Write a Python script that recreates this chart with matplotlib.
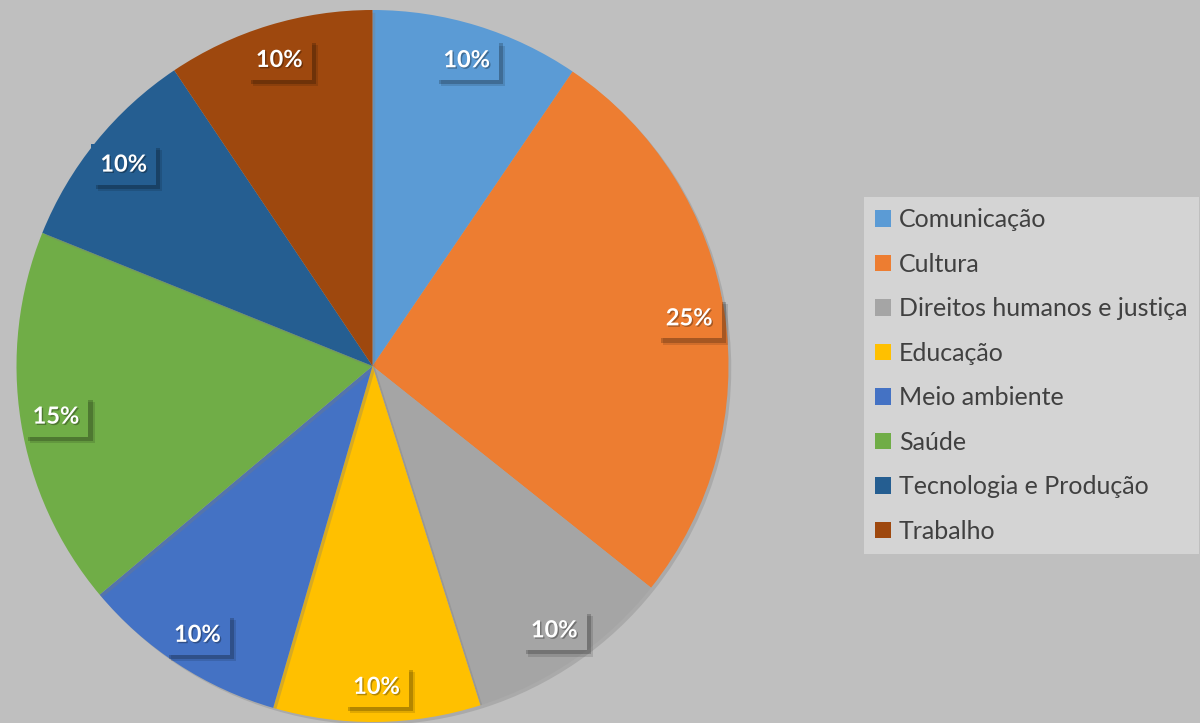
import matplotlib.pyplot as plt
import matplotlib.patheffects as pe
from matplotlib.patches import Patch

# slices, clockwise from 12 o'clock; sizes
categories = ['Comunicação', 'Cultura', 'Direitos humanos e justiça', 'Educação',
              'Meio ambiente', 'Saúde', 'Tecnologia e Produção', 'Trabalho']
shares = [9.5, 26.2, 9.4, 9.4, 9.4, 17.2, 9.5, 9.4]
pct_labels = ['10%', '25%', '10%', '10%', '10%', '15%', '10%', '10%']
colors = ['#5B9BD5', '#ED7D31', '#A5A5A5', '#FFC000',
          '#4472C4', '#70AD47', '#255E91', '#9E480E']

plt.rcParams['font.family'] = ['Lato', 'DejaVu Sans']

fig = plt.figure(figsize=(12, 7.23), dpi=100, facecolor='#bfbfbf')
# square axes centred on the pie at (372, 366) px, radius ~356 px
ax = fig.add_axes([16.5 / 1200, 1 / 723, 712 / 1200, 712 / 723])
ax.set_facecolor('none')

labels_iter = iter(pct_labels)
wedges, texts, autotexts = ax.pie(
    shares, colors=colors, startangle=90, counterclock=False,
    autopct=lambda p: next(labels_iter), pctdistance=0.9, radius=1.0,
    wedgeprops=dict(linewidth=0),
)

for w in wedges:
    w.set_path_effects([pe.SimplePatchShadow(offset=(2, -2), shadow_rgbFace='#7a7a7a', alpha=0.3),
                        pe.Normal()])

for t, c in zip(autotexts, colors):
    t.set_color('white')
    t.set_fontsize(17)
    t.set_fontweight('bold')
    t.set_bbox(dict(boxstyle='square,pad=0.38', facecolor=c, edgecolor='none'))
    # soft-ish drop shadow under the label box
    t.get_bbox_patch().set_path_effects([
        pe.SimplePatchShadow(offset=(4.5, -4.5), shadow_rgbFace='black', alpha=0.12),
        pe.SimplePatchShadow(offset=(3, -3), shadow_rgbFace='black', alpha=0.2),
        pe.Normal()])
    t.set_path_effects([pe.withSimplePatchShadow(offset=(1, -1), shadow_rgbFace='black', alpha=0.3)])

ax.set_xlim(-1.0, 1.0)
ax.set_ylim(-1.0, 1.0)
ax.set_aspect('equal')
ax.axis('off')

handles = [Patch(facecolor=c, edgecolor='none') for c in colors]
leg = fig.legend(handles, categories, loc='upper left', bbox_to_anchor=(864 / 1200, 1 - 197 / 723),
                 frameon=True, fancybox=False, fontsize=18, handlelength=0.64, handleheight=0.64,
                 handletextpad=0.3, labelspacing=0.86, borderpad=0.45, borderaxespad=0)
leg.get_frame().set_facecolor('#d4d4d4')
leg.get_frame().set_edgecolor('none')
leg.get_frame().set_alpha(1)
for txt in leg.get_texts():
    txt.set_color('#404040')

plt.savefig('out.png', dpi=100, facecolor=fig.get_facecolor())
